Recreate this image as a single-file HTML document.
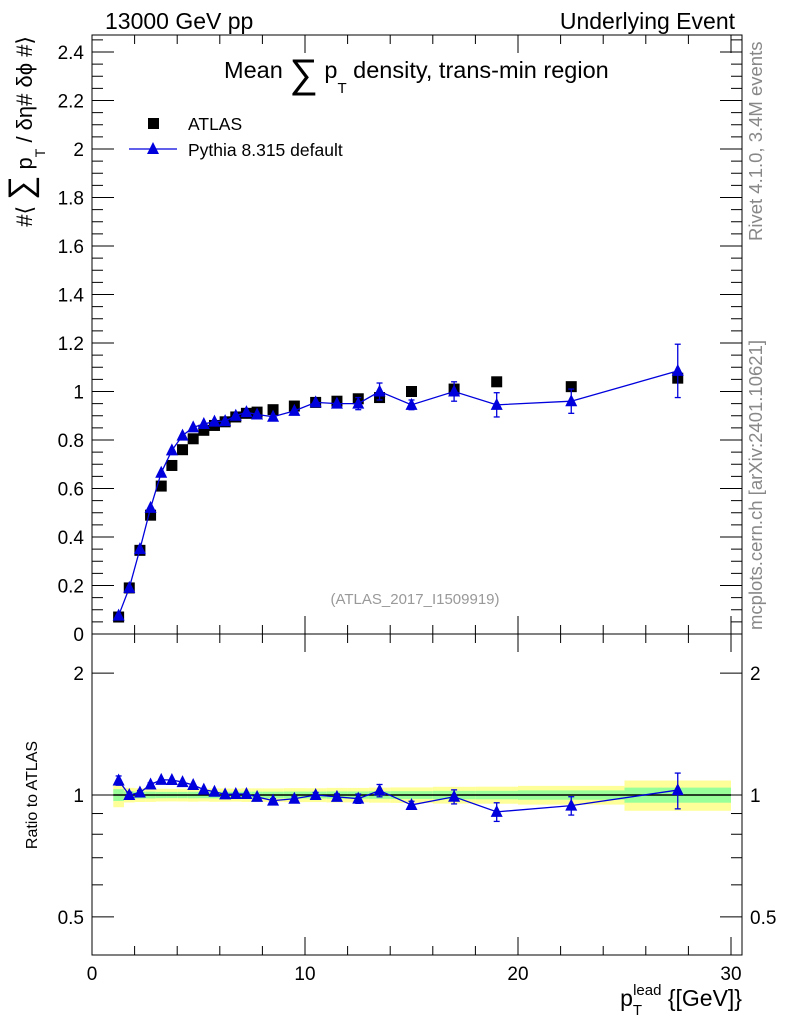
<!DOCTYPE html>
<html><head><meta charset="utf-8"><style>
body{margin:0;background:#fff;}
svg text{font-family:"Liberation Sans",sans-serif;}
</style></head><body>
<svg id="c" width="786" height="1024" xmlns="http://www.w3.org/2000/svg">
<g id="g"></g>
<g>
<text x="105" y="29" font-size="23">13000 GeV pp</text>
<text x="735" y="29" font-size="23" text-anchor="end">Underlying Event</text>
<text x="224" y="78" font-size="23.5">Mean <tspan font-size="40" dy="9">∑</tspan><tspan dy="-9"> p</tspan><tspan font-size="15" dy="15">T</tspan><tspan dy="-15"> density, trans-min region</tspan></text>
<rect x="148" y="118" width="11" height="11" fill="#000"/>
<text x="188" y="130" font-size="17.5">ATLAS</text>
<line x1="129" x2="177" y1="149" y2="149" stroke="#0000dd" stroke-width="1.3"/>
<polygon points="153,142 147,154 159,154" fill="#0000dd"/>
<text x="188" y="156" font-size="17.5">Pythia 8.315 default</text>
<text x="415" y="604" font-size="15" fill="#999" text-anchor="middle">(ATLAS_2017_I1509919)</text>
<text transform="translate(32,36) rotate(-90)" font-size="22" text-anchor="end">#⟨ <tspan font-size="34">∑</tspan> p<tspan font-size="14" dy="13">T</tspan><tspan dy="-13"> / δη# δϕ #⟩</tspan></text>
<text transform="translate(37,795) rotate(-90)" font-size="16" text-anchor="middle">Ratio to ATLAS</text>
<text transform="translate(762,241) rotate(-90)" font-size="18.5" fill="#888">Rivet 4.1.0,  3.4M events</text>
<text transform="translate(762,630) rotate(-90)" font-size="18.5" fill="#888">mcplots.cern.ch [arXiv:2401.10621]</text>
<text x="742" y="1006" font-size="23" text-anchor="end">p<tspan font-size="15" dy="9">T</tspan><tspan font-size="15" dy="-20" dx="-9">lead</tspan><tspan dy="11"> {[GeV]}</tspan></text>
</g>
</svg>
<script>
const xCenters=[1.25,1.75,2.25,2.75,3.25,3.75,4.25,4.75,5.25,5.75,6.25,6.75,7.25,7.75,8.5,9.5,10.5,11.5,12.5,13.5,15,17,19,22.5,27.5];
const xEdges=[1,1.5,2,2.5,3,3.5,4,4.5,5,5.5,6,6.5,7,7.5,8,9,10,11,12,13,14,16,18,20,25,30];
const atlasVals=[0.07,0.19,0.345,0.49,0.61,0.695,0.76,0.805,0.84,0.86,0.875,0.895,0.91,0.915,0.925,0.94,0.955,0.96,0.97,0.975,1.0,1.01,1.04,1.02,1.055];
const atlasErr=[0.002,0.003,0.005,0.007,0.008,0.009,0.01,0.011,0.011,0.012,0.012,0.012,0.013,0.013,0.013,0.014,0.014,0.015,0.015,0.016,0.017,0.019,0.02,0.022,0.04];
const pythiaVals=[0.076,0.19,0.35,0.52,0.665,0.757,0.818,0.852,0.866,0.876,0.878,0.9,0.915,0.905,0.896,0.92,0.955,0.95,0.95,1.0,0.945,1.0,0.945,0.96,1.085];
const pythiaErr=[0.002,0.003,0.004,0.005,0.005,0.006,0.006,0.006,0.007,0.007,0.008,0.008,0.009,0.01,0.01,0.012,0.014,0.016,0.025,0.035,0.02,0.04,0.05,0.05,0.11];
const yTicksMain=[0,0.2,0.4,0.6,0.8,1,1.2,1.4,1.6,1.8,2,2.2,2.4];
const yTickLabelsMain=["0","0.2","0.4","0.6","0.8","1","1.2","1.4","1.6","1.8","2","2.2","2.4"];
const xTicks=[0,10,20,30];
const ratioTicks=[0.5,1,2];

const L=92,R=742,T=35,B=634,RT=634,RB=955;
const X=v=>L+v*(731-92)/30;
const Y=v=>B-v*242.5;
const RY=v=>795-Math.log10(v)*405;
const g=document.getElementById('g');
const NS='http://www.w3.org/2000/svg';
function el(t,a,p){const e=document.createElementNS(NS,t);for(const k in a)e.setAttribute(k,a[k]);(p||g).appendChild(e);return e;}

xCenters.forEach((c,i)=>{
  const rel=atlasErr[i]/atlasVals[i];
  const y1=el('rect',{x:X(xEdges[i]),width:X(xEdges[i+1])-X(xEdges[i]),y:RY(1+2*rel+0.01),height:RY(1-2*rel-0.01)-RY(1+2*rel+0.01),fill:'#ffff99'});
  
  
  const g1=el('rect',{x:X(xEdges[i]),width:X(xEdges[i+1])-X(xEdges[i]),y:RY(1+rel+0.005),height:RY(1-rel-0.005)-RY(1+rel+0.005),fill:'#99ff99'});
  
  
});
el('line',{x1:X(1),x2:X(30),y1:RY(1),y2:RY(1),stroke:'#000','stroke-width':1.5});

el('rect',{x:L,y:T,width:R-L,height:B-T,fill:'none',stroke:'#000'});
el('rect',{x:L,y:RT,width:R-L,height:RB-RT,fill:'none',stroke:'#000'});

for(let v=0;v<=2.45;v+=0.05){const y=Y(v);const major=Math.abs(v*5-Math.round(v*5))<1e-6;
 el('line',{x1:L,x2:L+(major?22:11),y1:y,y2:y,stroke:'#000'});el('line',{x1:R,x2:R-(major?22:11),y1:y,y2:y,stroke:'#000'});}
yTicksMain.forEach((v,i)=>{const t=el('text',{x:L-8,y:Y(v)+7,'text-anchor':'end','font-size':19});t.textContent=yTickLabelsMain[i];
 });
for(let v=0;v<=30;v+=2){const x=X(v);const major=v%10===0;
 [T,RT].forEach(tp=>el('line',{x1:x,x2:x,y1:tp,y2:tp+(major?18:9),stroke:'#000'}));
 [B,RB].forEach(bt=>el('line',{x1:x,x2:x,y1:bt,y2:bt-(major?18:9),stroke:'#000'}));}
xTicks.forEach(v=>{const t=el('text',{x:X(v),y:980,'text-anchor':'middle','font-size':19});t.textContent=v;
 });
[0.5,0.6,0.7,0.8,0.9,1,2].forEach(v=>{const major=ratioTicks.includes(v);const y=RY(v);
 el('line',{x1:L,x2:L+(major?22:11),y1:y,y2:y,stroke:'#000'});el('line',{x1:R,x2:R-(major?22:11),y1:y,y2:y,stroke:'#000'});});
ratioTicks.forEach(v=>{[[L-8,'end'],[R+8,'start']].forEach(([x,a])=>{const t=el('text',{x:x,y:RY(v)+7,'text-anchor':a,'font-size':19});t.textContent=v;
 });});

function tri(x,y,c,p){const e=el('polygon',{points:`${x},${y-7} ${x-6},${y+5} ${x+6},${y+5}`,fill:c},p);return e;}
atlasVals.forEach((v,i)=>{const r=el('rect',{x:X(xCenters[i])-5.5,y:Y(v)-5.5,width:11,height:11,fill:'#000'});
 });
el('polyline',{points:xCenters.map((c,i)=>X(c)+','+Y(pythiaVals[i])).join(' '),fill:'none',stroke:'#0000dd','stroke-width':1.3});
pythiaVals.forEach((v,i)=>{const x=X(xCenters[i]);
 if(pythiaErr[i]*242.5>4){el('line',{x1:x,x2:x,y1:Y(v+pythiaErr[i]),y2:Y(v-pythiaErr[i]),stroke:'#0000dd','stroke-width':1.3});
  [v+pythiaErr[i],v-pythiaErr[i]].forEach(e=>el('line',{x1:x-3,x2:x+3,y1:Y(e),y2:Y(e),stroke:'#0000dd','stroke-width':1.3}));}
 const t=tri(x,Y(v),'#0000dd');});
const ratios=pythiaVals.map((v,i)=>v/atlasVals[i]);
el('polyline',{points:xCenters.map((c,i)=>X(c)+','+RY(ratios[i])).join(' '),fill:'none',stroke:'#0000dd','stroke-width':1.3});
ratios.forEach((r,i)=>{const x=X(xCenters[i]);const e=pythiaErr[i]/atlasVals[i];
 if(e*400>4){el('line',{x1:x,x2:x,y1:RY(r+e),y2:RY(r-e),stroke:'#0000dd','stroke-width':1.3});
  [r+e,r-e].forEach(q=>el('line',{x1:x-3,x2:x+3,y1:RY(q),y2:RY(q),stroke:'#0000dd','stroke-width':1.3}));}
 const t=tri(x,RY(r),'#0000dd');});
</script>
</body></html>
